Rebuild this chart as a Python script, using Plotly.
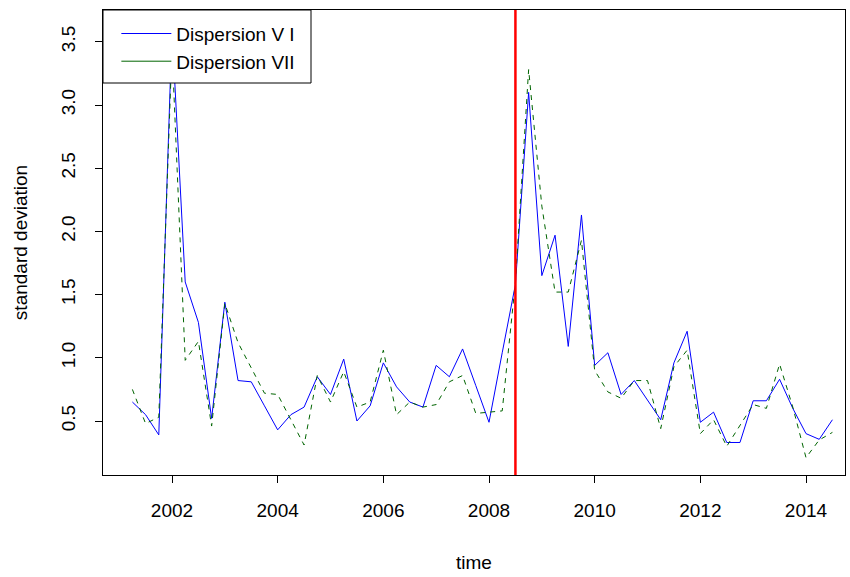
import plotly.graph_objects as go

# Quarterly observations, 2001 Q2 .. 2014 Q3 (decimal years)
n_quarters = 54
time = [2001.25 + 0.25 * i for i in range(n_quarters)]

disp_v1 = [0.65, 0.55, 0.39, 3.60, 1.60, 1.28, 0.52, 1.44, 0.82, 0.81,
           0.62, 0.43, 0.55, 0.61, 0.85, 0.71, 0.99, 0.50, 0.62, 0.96,
           0.77, 0.65, 0.61, 0.94, 0.85, 1.07, 0.78, 0.49, 1.04, 1.58,
           3.10, 1.65, 1.97, 1.09, 2.13, 0.94, 1.04, 0.71, 0.82, 0.67,
           0.51, 0.96, 1.21, 0.49, 0.57, 0.33, 0.33, 0.66, 0.66, 0.83,
           0.60, 0.40, 0.355, 0.51]

disp_v2 = [0.75, 0.48, 0.53, 3.45, 0.98, 1.13, 0.46, 1.43, 1.12, 0.92,
           0.72, 0.71, 0.51, 0.31, 0.86, 0.65, 0.89, 0.61, 0.65, 1.06,
           0.55, 0.65, 0.61, 0.63, 0.81, 0.86, 0.56, 0.57, 0.58, 1.60,
           3.28, 2.20, 1.52, 1.52, 1.93, 0.90, 0.73, 0.68, 0.82, 0.82,
           0.44, 0.93, 1.06, 0.40, 0.51, 0.30, 0.46, 0.63, 0.60, 0.95,
           0.61, 0.21, 0.35, 0.41]

series_names = ["Dispersion V I", "Dispersion VII"]
series_colors = ["#0000FF", "#006400"]

break_year = 2008.5

x_ticks = [2002, 2004, 2006, 2008, 2010, 2012, 2014]
y_ticks = [0.5, 1.0, 1.5, 2.0, 2.5, 3.0, 3.5]
y_tick_text = ["0.5", "1.0", "1.5", "2.0", "2.5", "3.0", "3.5"]

FONT = "Liberation Sans, Arial, sans-serif"
FS = 19

fig = go.Figure()

fig.add_trace(go.Scatter(x=time, y=disp_v1, mode="lines", showlegend=False,
                         line=dict(color=series_colors[0], width=1)))
fig.add_trace(go.Scatter(x=time, y=disp_v2, mode="lines", showlegend=False,
                         line=dict(color=series_colors[1], width=1, dash="5px,5px")))

# legend keys (solid samples for both series)
for name, col in zip(series_names, series_colors):
    fig.add_trace(go.Scatter(x=[None], y=[None], mode="lines", name=name,
                             line=dict(color=col, width=1)))

# structural break marker
fig.add_shape(type="line", x0=break_year, x1=break_year, xref="x",
              y0=0, y1=1, yref="y domain",
              line=dict(color="#FF0000", width=2.5), layer="above")

# legend frame
fig.add_shape(type="rect", xref="paper", yref="paper",
              x0=0, x1=(311 - 103) / 742, y0=(475 - 83) / 465, y1=1,
              line=dict(color="black", width=1), fillcolor="white", layer="above")

axis_common = dict(showline=True, mirror=True, linecolor="black", linewidth=1,
                   showgrid=False, zeroline=False, ticks="outside", ticklen=7,
                   tickcolor="black", tickwidth=1,
                   tickfont=dict(family=FONT, size=FS, color="black"))

fig.update_xaxes(range=[2000.694, 2014.738], tickvals=x_ticks,
                 ticklabelstandoff=11,
                 title=dict(text="time", standoff=35,
                            font=dict(family=FONT, size=FS, color="black")),
                 **axis_common)
fig.update_yaxes(range=[0.0728, 3.7516], tickvals=y_ticks, ticktext=y_tick_text,
                 tickangle=-90, ticklabelstandoff=12,
                 title=dict(text="standard deviation", standoff=25,
                            font=dict(family=FONT, size=FS, color="black")),
                 **axis_common)

fig.update_layout(
    width=850, height=577,
    margin=dict(l=103, r=5, t=10, b=102, autoexpand=False),
    plot_bgcolor="white", paper_bgcolor="white",
    font=dict(family=FONT, size=FS, color="black"),
    legend=dict(x=0.018, y=0.99, xanchor="left", yanchor="top",
                bgcolor="rgba(0,0,0,0)", borderwidth=0,
                itemwidth=50, tracegroupgap=0,
                font=dict(family=FONT, size=FS, color="black")),
)

fig.write_html("out.html")
